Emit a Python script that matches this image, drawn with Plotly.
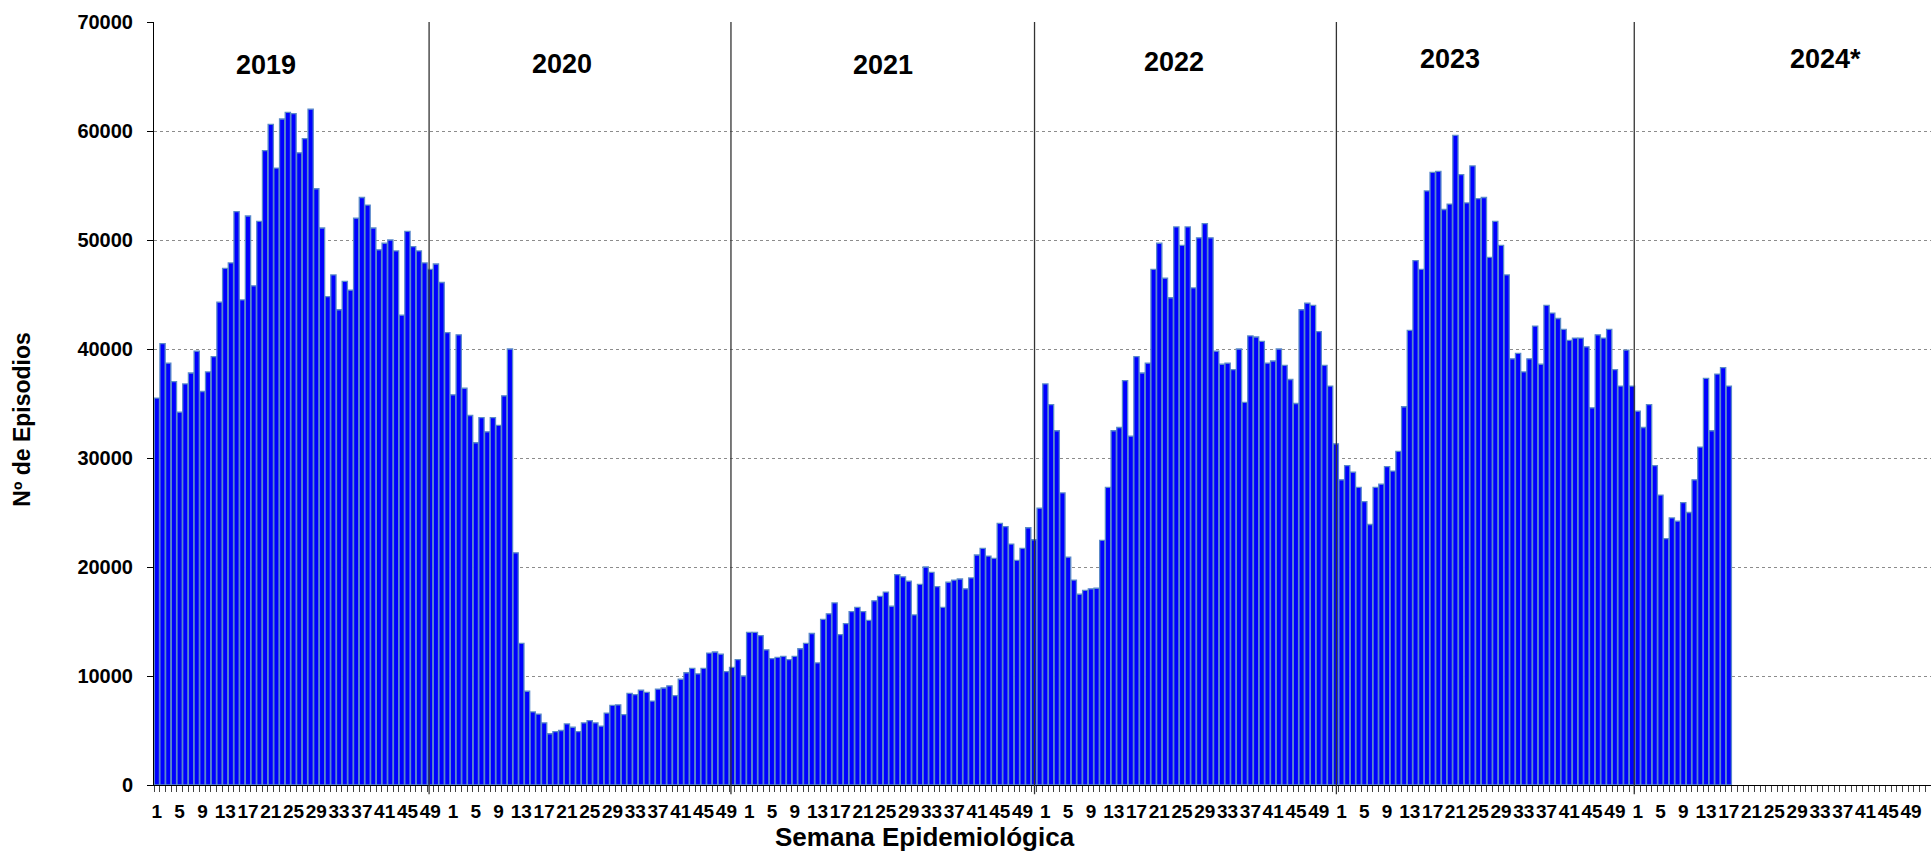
import plotly.graph_objects as go

# ---- data (weekly episodes) ----
years = ["2019", "2020", "2021", "2022", "2023", "2024*"]
weeks_per_year = 52
week_labels = [str(w) for w in range(1, 53, 4)]

y2019 = [35500, 40500, 38700, 37000, 34200, 36800, 37800, 39800, 36100, 37900, 39300, 44300, 47400,
         47900, 52600, 44500, 52200, 45800, 51700, 58200, 60600, 56600, 61100, 61700, 61600, 58000,
         59300, 62000, 54700, 51100, 44800, 46800, 43600, 46200, 45400, 52000, 53900, 53200, 51100,
         49100, 49700, 50000, 49000, 43100, 50800, 49400, 49000, 47900, 47300, 47800, 46100, 41500]
y2020 = [35800, 41300, 36400, 33900, 31400, 33700, 32400, 33700, 33000, 35700, 40000, 21300, 13000,
         8600, 6700, 6500, 5700, 4700, 4900, 5000, 5600, 5300, 4900, 5700, 5900, 5700,
         5400, 6600, 7300, 7350, 6450, 8400, 8300, 8700, 8500, 7700, 8800, 8900, 9100,
         8200, 9700, 10300, 10700, 10200, 10700, 12100, 12200, 12000, 10400, 10800, 11500, 10000]
y2021 = [14000, 14000, 13700, 12400, 11600, 11700, 11800, 11500, 11800, 12500, 13000, 13900, 11200,
         15200, 15700, 16700, 13800, 14800, 15900, 16300, 15900, 15100, 16900, 17300, 17700, 16400,
         19300, 19100, 18700, 15600, 18400, 20000, 19500, 18200, 16300, 18600, 18800, 18900, 18000,
         19000, 21100, 21700, 21000, 20800, 24000, 23700, 22100, 20600, 21700, 23600, 22500, 25400]
y2022 = [36800, 34900, 32500, 26800, 20900, 18800, 17500, 17850, 18000, 18050, 22450, 27300, 32500,
         32800, 37100, 32000, 39300, 37800, 38700, 47300, 49700, 46500, 44700, 51200, 49500, 51200,
         45600, 50200, 51500, 50200, 39800, 38600, 38700, 38100, 40000, 35100, 41200, 41100, 40700,
         38700, 38900, 40000, 38500, 37200, 35000, 43600, 44200, 44000, 41600, 38500, 36600, 31300]
y2023 = [28000, 29300, 28700, 27300, 26000, 23900, 27300, 27600, 29200, 28800, 30600, 34700, 41700,
         48100, 47300, 54500, 56200, 56300, 52800, 53300, 59600, 56000, 53400, 56800, 53800, 53900,
         48400, 51700, 49500, 46800, 39100, 39600, 37900, 39100, 42100, 38600, 44000, 43300, 42800,
         41800, 40800, 41000, 41000, 40200, 34600, 41300, 41000, 41800, 38100, 36600, 39900, 36600]
y2024 = [34300, 32800, 34900, 29300, 26600, 22600, 24500, 24200, 25900, 25000, 28000, 31000, 37300,
         32500, 37700, 38300, 36600]

values = y2019 + y2020 + y2021 + y2022 + y2023 + y2024
n_cat = weeks_per_year * len(years)
x_idx = list(range(len(values)))

tickvals = list(range(0, n_cat, 4))
ticktext = week_labels * len(years)

# year separator lines (as drawn in the original, in category units) and label positions
sep_x = [47.8, 100.8, 154.1, 207.1, 259.4]
year_label_x = [19.2, 71.1, 127.5, 178.6, 227.0, 293.0]
year_label_y = [66050, 66150, 66050, 66370, 66600, 66600]

bold = dict(family="Liberation Sans, Arial, sans-serif", color="black", weight="bold")

fig = go.Figure()
fig.add_trace(go.Bar(
    x=x_idx, y=values,
    marker=dict(color="#0000FF", line=dict(color="#5B8BC9", width=1.3)),
    hoverinfo="x+y",
))

for xs in sep_x:
    fig.add_shape(type="line", xref="x", yref="paper", x0=xs, x1=xs, y0=-0.012, y1=1.0,
                  line=dict(color="#333333", width=1.3))

for lab, xl, yl in zip(years, year_label_x, year_label_y):
    fig.add_annotation(x=xl, y=yl, xref="x", yref="y", text=lab, showarrow=False,
                       xanchor="center", yanchor="middle", font=dict(size=27, **bold))

fig.add_annotation(xref="paper", yref="paper", x=-0.0743, y=0.48, text="Nº de Episodios",
                   textangle=-90, showarrow=False, xanchor="center", yanchor="middle",
                   font=dict(size=23, **bold))
fig.add_annotation(xref="paper", yref="paper", x=0.434, y=-0.068, xanchor="center",
                   yanchor="middle", text="Semana Epidemiológica", showarrow=False,
                   font=dict(size=26, **bold))

fig.update_layout(
    width=1931, height=855,
    margin=dict(l=154, r=0, t=22, b=70),
    plot_bgcolor="white", paper_bgcolor="white",
    bargap=0.08, showlegend=False,
    xaxis=dict(
        range=[-0.5, n_cat - 0.5], tickmode="array", tickvals=tickvals, ticktext=ticktext,
        ticks="", showgrid=False, showline=True, linecolor="black", linewidth=1,
        tickangle=0,
        tickfont=dict(size=19, family="Liberation Sans, Arial", color="black", weight="bold"),
        ticklabelstandoff=9,
        minor=dict(ticks="outside", tick0=0.5, dtick=1, ticklen=6, tickcolor="#444444",
                   tickwidth=1, showgrid=False),
        zeroline=False,
    ),
    yaxis=dict(
        range=[0, 70000], dtick=10000, tickformat="d",
        showgrid=True, gridcolor="#8c8c8c", griddash="dot", gridwidth=1,
        showline=True, linecolor="black", linewidth=1, ticks="outside", ticklen=6,
        tickcolor="black", zeroline=False, ticklabelstandoff=10,
        tickfont=dict(size=20, **bold),
    ),
)

fig.write_html("out.html", config={"displayModeBar": False},
               post_script="document.body.style.margin='0';document.body.style.overflow='hidden';")
